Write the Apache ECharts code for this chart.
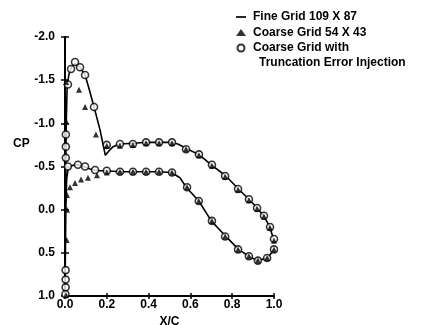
<!DOCTYPE html>
<html>
<head>
<meta charset="utf-8">
<script src="https://cdn.jsdelivr.net/npm/echarts@6/dist/echarts.min.js"></script>
<style>
  html, body { margin: 0; padding: 0; background: #fff; }
  #chart { width: 422px; height: 325px; }
</style>
</head>
<body>
<div id="chart"></div>
<script>
// Pressure coefficient around the airfoil.
// Each surface is listed trailing edge -> leading edge (upper), then leading edge -> trailing edge (lower).

// Fine grid 109 x 87 (solid line)
const fineX = [1.0, 0.98, 0.95, 0.92, 0.88, 0.83, 0.77, 0.70, 0.64, 0.58, 0.54, 0.50, 0.45, 0.39, 0.33, 0.26,
  0.23, 0.21, 0.193, 0.167, 0.139, 0.115, 0.096, 0.072, 0.048, 0.03, 0.018, 0.01, 0.006, 0.004, 0.002, 0.001,
  0.0,
  0.002, 0.004, 0.008, 0.014, 0.03, 0.06, 0.09, 0.12, 0.16, 0.20, 0.26, 0.32, 0.39, 0.45, 0.51, 0.55, 0.58,
  0.64, 0.70, 0.77, 0.83, 0.88, 0.92, 0.97, 1.0];
const fineCp = [0.36, 0.20, 0.07, -0.02, -0.12, -0.24, -0.39, -0.52, -0.64, -0.71, -0.76, -0.78, -0.78, -0.78, -0.77, -0.76,
  -0.73, -0.68, -0.63, -0.93, -1.19, -1.40, -1.56, -1.65, -1.69, -1.65, -1.56, -1.40, -1.0, -0.5, 0.0, 0.5,
  1.0,
  0.5, 0.0, -0.35, -0.46, -0.51, -0.52, -0.50, -0.47, -0.45, -0.45, -0.44, -0.44, -0.44, -0.44, -0.43, -0.37, -0.26,
  -0.10, 0.13, 0.31, 0.46, 0.54, 0.59, 0.56, 0.46];

// Coarse grid 54 x 43 (filled triangles)
const coarseX = [1.0, 0.981, 0.952, 0.919, 0.88, 0.828, 0.766, 0.703, 0.641, 0.579, 0.512, 0.45, 0.388, 0.325, 0.263,
  0.20, 0.148, 0.096, 0.067, 0.005, 0.006,
  0.005, 0.008, 0.01, 0.01, 0.024, 0.048, 0.077, 0.11, 0.153, 0.20, 0.263, 0.325, 0.388, 0.45, 0.512,
  0.584, 0.64, 0.703, 0.766, 0.828, 0.88, 0.923, 0.967, 1.0];
const coarseCp = [0.36, 0.21, 0.08, -0.01, -0.11, -0.23, -0.38, -0.51, -0.63, -0.70, -0.77, -0.77, -0.77, -0.75, -0.74,
  -0.74, -0.87, -1.19, -1.39, -1.48, -1.02,
  0.99, 0.35, 0.0, -0.17, -0.26, -0.31, -0.35, -0.37, -0.40, -0.43, -0.44, -0.44, -0.44, -0.44, -0.43,
  -0.26, -0.10, 0.13, 0.31, 0.46, 0.54, 0.59, 0.56, 0.46];

// Coarse grid with truncation error injection (open circles)
const teiX = [1.0, 0.981, 0.952, 0.919, 0.88, 0.828, 0.766, 0.703, 0.641, 0.579, 0.512, 0.45, 0.388, 0.325, 0.263,
  0.20, 0.139, 0.096, 0.072, 0.048, 0.029, 0.014, 0.004, 0.004, 0.004,
  0.003, 0.003, 0.003, 0.002,
  0.014, 0.062, 0.096, 0.144, 0.20, 0.263, 0.325, 0.388, 0.45, 0.512, 0.584, 0.64, 0.703, 0.766, 0.828,
  0.88, 0.923, 0.967, 1.0];
const teiCp = [0.34, 0.20, 0.07, -0.02, -0.12, -0.24, -0.39, -0.52, -0.64, -0.70, -0.78, -0.78, -0.78, -0.76, -0.76,
  -0.75, -1.19, -1.56, -1.65, -1.71, -1.63, -1.45, -0.87, -0.73, -0.60,
  0.70, 0.81, 0.90, 0.98,
  -0.50, -0.52, -0.50, -0.46, -0.45, -0.44, -0.44, -0.44, -0.44, -0.43, -0.26, -0.10, 0.13, 0.31, 0.46,
  0.54, 0.59, 0.56, 0.46];

const seriesNames = ['Fine Grid 109 X 87', 'Coarse Grid 54 X 43', 'Coarse Grid with'];
const legendSecondLine = 'Truncation Error Injection';
const xTitle = 'X/C';
const yTitle = 'CP';

const FONT = '"Liberation Sans", Arial, sans-serif';
const txt = { color: '#000', fontFamily: FONT, fontWeight: 'bold', fontSize: 12 };
const pairs = (xs, ys) => xs.map((x, i) => [x, ys[i]]);
const gridBox = { left: 65, right: 148, top: 37, bottom: 29, containLabel: false, outerBoundsMode: 'none' };
const tickStyle = { color: '#000', width: 1.5 };

const chart = echarts.init(document.getElementById('chart'), null, { renderer: 'canvas' });

chart.setOption({
  animation: false,
  backgroundColor: '#fff',
  // second grid carries the inward half of the crossing tick marks
  grid: [Object.assign({}, gridBox), Object.assign({}, gridBox)],
  xAxis: [
    {
      type: 'value', gridIndex: 0, position: 'bottom', min: 0, max: 1, interval: 0.2,
      axisLine: { show: true, onZero: false, lineStyle: { color: '#000', width: 2 } },
      axisTick: { show: true, length: 3, lineStyle: tickStyle },
      axisLabel: Object.assign({}, txt, { margin: 3, formatter: v => v.toFixed(1) }),
      splitLine: { show: false },
      name: xTitle, nameLocation: 'middle', nameGap: 20, nameTextStyle: txt
    },
    {
      type: 'value', gridIndex: 1, position: 'bottom', min: 0, max: 1, interval: 0.2,
      axisLine: { show: false, onZero: false },
      axisTick: { show: true, inside: true, length: 3, lineStyle: tickStyle },
      axisLabel: { show: false },
      splitLine: { show: false }
    }
  ],
  yAxis: [
    {
      type: 'value', gridIndex: 0, position: 'left', min: -2, max: 1, interval: 0.5, inverse: true,
      axisLine: { show: true, onZero: false, lineStyle: { color: '#000', width: 2 } },
      axisTick: { show: true, length: 4, lineStyle: tickStyle },
      axisLabel: Object.assign({}, txt, { margin: 10, formatter: v => v.toFixed(1) }),
      splitLine: { show: false }
    },
    {
      type: 'value', gridIndex: 1, position: 'left', min: -2, max: 1, interval: 0.5, inverse: true,
      axisLine: { show: false, onZero: false },
      axisTick: { show: true, inside: true, length: 4, lineStyle: tickStyle },
      axisLabel: { show: false },
      splitLine: { show: false }
    }
  ],
  legend: {
    orient: 'vertical', left: 236, top: 11, padding: 0,
    itemWidth: 10, itemHeight: 7, itemGap: 3.5, symbolKeepAspect: true,
    textStyle: Object.assign({}, txt, { padding: [0, 0, 0, 2] }),
    data: [
      { name: seriesNames[0], icon: 'path://M0 0H10V1.7H0Z' },
      { name: seriesNames[1] },
      { name: seriesNames[2] }
    ]
  },
  graphic: [
    { type: 'text', left: 259, top: 57, style: { text: legendSecondLine, fill: '#000', font: 'bold 12px ' + FONT } },
    { type: 'text', left: 13, top: 138, style: { text: yTitle, fill: '#000', font: 'bold 12px ' + FONT } }
  ],
  series: [
    {
      name: seriesNames[0], type: 'line', xAxisIndex: 0, yAxisIndex: 0,
      data: pairs(fineX, fineCp), symbol: 'none', smooth: false,
      lineStyle: { color: '#000', width: 1.6 }, itemStyle: { color: '#000' }, z: 2
    },
    {
      name: seriesNames[2], type: 'scatter', xAxisIndex: 0, yAxisIndex: 0,
      data: pairs(teiX, teiCp), symbol: 'circle', symbolSize: 7,
      itemStyle: { color: '#fff', borderColor: '#000', borderWidth: 1.6 }, z: 3
    },
    {
      name: seriesNames[1], type: 'scatter', xAxisIndex: 0, yAxisIndex: 0,
      data: pairs(coarseX, coarseCp), symbol: 'triangle', symbolSize: 6,
      itemStyle: { color: '#000' }, z: 4
    }
  ]
});
</script>
</body>
</html>
